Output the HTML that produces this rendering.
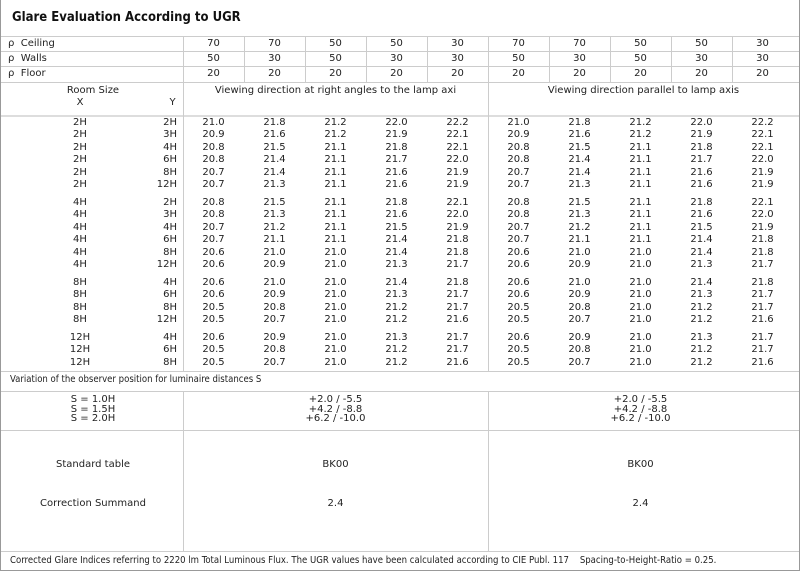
<!DOCTYPE html>
<html><head><meta charset="utf-8"><style>
*{margin:0;padding:0;box-sizing:border-box}
body{width:800px;height:571px;background:#fff;position:relative;font-family:"DejaVu Sans","Liberation Sans",sans-serif;font-size:10px;color:#222;overflow:hidden}
.a{position:absolute}
.h{position:absolute;height:1px;background:#ccc}
.v{position:absolute;width:1px;background:#ccc}
.r{position:absolute;left:0;height:12.4px;line-height:12.4px;white-space:nowrap;width:800px}
.r span{position:absolute;top:0;text-align:center;width:61px}
.r .x{left:0;width:160px}
.r .y{left:120px;width:57px;text-align:right}
.c{position:absolute;text-align:center}
.cd{font-family:"DejaVu Sans Condensed","DejaVu Sans",sans-serif;font-stretch:condensed}
</style></head><body>
<div class="a" style="left:0;top:0;width:800px;height:571px;border:1px solid #999;border-top:none"></div>
<div class="a cd" style="left:12px;top:10px;font-size:13px;font-weight:bold;color:#111">Glare Evaluation According to UGR</div>
<div class="h" style="left:1px;width:798px;top:36px"></div>
<div class="h" style="left:1px;width:798px;top:51px"></div>
<div class="h" style="left:1px;width:798px;top:66px"></div>
<div class="h" style="left:1px;width:798px;top:82px"></div>
<div class="h" style="left:1px;width:798px;top:115px;background:#ddd;height:2px"></div>
<div class="h" style="left:1px;width:798px;top:371px"></div>
<div class="h" style="left:1px;width:798px;top:391px"></div>
<div class="h" style="left:1px;width:798px;top:430px"></div>
<div class="h" style="left:1px;width:798px;top:551px"></div>
<div class="v" style="left:183px;top:36px;height:335px"></div>
<div class="v" style="left:183px;top:391px;height:160px"></div>
<div class="v" style="left:488px;top:36px;height:335px"></div>
<div class="v" style="left:488px;top:391px;height:160px"></div>
<div class="v" style="left:244px;top:36px;height:46px"></div>
<div class="v" style="left:305px;top:36px;height:46px"></div>
<div class="v" style="left:366px;top:36px;height:46px"></div>
<div class="v" style="left:427px;top:36px;height:46px"></div>
<div class="v" style="left:549px;top:36px;height:46px"></div>
<div class="v" style="left:610px;top:36px;height:46px"></div>
<div class="v" style="left:671px;top:36px;height:46px"></div>
<div class="v" style="left:732px;top:36px;height:46px"></div>

<div class="r" style="top:38px"><span style="left:8px;text-align:left;width:150px">ρ&nbsp; Ceiling</span><span style="left:183px">70</span><span style="left:244px">70</span><span style="left:305px">50</span><span style="left:366px">50</span><span style="left:427px">30</span><span style="left:488px">70</span><span style="left:549px">70</span><span style="left:610px">50</span><span style="left:671px">50</span><span style="left:732px">30</span></div>
<div class="r" style="top:53px"><span style="left:8px;text-align:left;width:150px">ρ&nbsp; Walls</span><span style="left:183px">50</span><span style="left:244px">30</span><span style="left:305px">50</span><span style="left:366px">30</span><span style="left:427px">30</span><span style="left:488px">50</span><span style="left:549px">30</span><span style="left:610px">50</span><span style="left:671px">30</span><span style="left:732px">30</span></div>
<div class="r" style="top:68px"><span style="left:8px;text-align:left;width:150px">ρ&nbsp; Floor</span><span style="left:183px">20</span><span style="left:244px">20</span><span style="left:305px">20</span><span style="left:366px">20</span><span style="left:427px">20</span><span style="left:488px">20</span><span style="left:549px">20</span><span style="left:610px">20</span><span style="left:671px">20</span><span style="left:732px">20</span></div>

<div class="c" style="left:0;width:186px;top:85px">Room Size</div>
<div class="c" style="left:60px;width:40px;top:97px">X</div>
<div class="c" style="left:155px;width:35px;top:97px">Y</div>
<div class="c" style="left:183px;width:305px;top:85px">Viewing direction at right angles to the lamp axi</div>
<div class="c" style="left:488px;width:311px;top:85px">Viewing direction parallel to lamp axis</div>

<div class="a" style="left:0;top:117px;width:800px">
<div class="r" style="top:0"><span class="x">2H</span><span class="y">2H</span><span style="left:183px">21.0</span><span style="left:244px">21.8</span><span style="left:305px">21.2</span><span style="left:366px">22.0</span><span style="left:427px">22.2</span><span style="left:488px">21.0</span><span style="left:549px">21.8</span><span style="left:610px">21.2</span><span style="left:671px">22.0</span><span style="left:732px">22.2</span></div>
<div class="r" style="top:12.4px"><span class="x">2H</span><span class="y">3H</span><span style="left:183px">20.9</span><span style="left:244px">21.6</span><span style="left:305px">21.2</span><span style="left:366px">21.9</span><span style="left:427px">22.1</span><span style="left:488px">20.9</span><span style="left:549px">21.6</span><span style="left:610px">21.2</span><span style="left:671px">21.9</span><span style="left:732px">22.1</span></div>
<div class="r" style="top:24.8px"><span class="x">2H</span><span class="y">4H</span><span style="left:183px">20.8</span><span style="left:244px">21.5</span><span style="left:305px">21.1</span><span style="left:366px">21.8</span><span style="left:427px">22.1</span><span style="left:488px">20.8</span><span style="left:549px">21.5</span><span style="left:610px">21.1</span><span style="left:671px">21.8</span><span style="left:732px">22.1</span></div>
<div class="r" style="top:37.2px"><span class="x">2H</span><span class="y">6H</span><span style="left:183px">20.8</span><span style="left:244px">21.4</span><span style="left:305px">21.1</span><span style="left:366px">21.7</span><span style="left:427px">22.0</span><span style="left:488px">20.8</span><span style="left:549px">21.4</span><span style="left:610px">21.1</span><span style="left:671px">21.7</span><span style="left:732px">22.0</span></div>
<div class="r" style="top:49.6px"><span class="x">2H</span><span class="y">8H</span><span style="left:183px">20.7</span><span style="left:244px">21.4</span><span style="left:305px">21.1</span><span style="left:366px">21.6</span><span style="left:427px">21.9</span><span style="left:488px">20.7</span><span style="left:549px">21.4</span><span style="left:610px">21.1</span><span style="left:671px">21.6</span><span style="left:732px">21.9</span></div>
<div class="r" style="top:62px"><span class="x">2H</span><span class="y">12H</span><span style="left:183px">20.7</span><span style="left:244px">21.3</span><span style="left:305px">21.1</span><span style="left:366px">21.6</span><span style="left:427px">21.9</span><span style="left:488px">20.7</span><span style="left:549px">21.3</span><span style="left:610px">21.1</span><span style="left:671px">21.6</span><span style="left:732px">21.9</span></div>
</div>

<div class="a" style="left:0;top:197px;width:800px">
<div class="r" style="top:0"><span class="x">4H</span><span class="y">2H</span><span style="left:183px">20.8</span><span style="left:244px">21.5</span><span style="left:305px">21.1</span><span style="left:366px">21.8</span><span style="left:427px">22.1</span><span style="left:488px">20.8</span><span style="left:549px">21.5</span><span style="left:610px">21.1</span><span style="left:671px">21.8</span><span style="left:732px">22.1</span></div>
<div class="r" style="top:12.4px"><span class="x">4H</span><span class="y">3H</span><span style="left:183px">20.8</span><span style="left:244px">21.3</span><span style="left:305px">21.1</span><span style="left:366px">21.6</span><span style="left:427px">22.0</span><span style="left:488px">20.8</span><span style="left:549px">21.3</span><span style="left:610px">21.1</span><span style="left:671px">21.6</span><span style="left:732px">22.0</span></div>
<div class="r" style="top:24.8px"><span class="x">4H</span><span class="y">4H</span><span style="left:183px">20.7</span><span style="left:244px">21.2</span><span style="left:305px">21.1</span><span style="left:366px">21.5</span><span style="left:427px">21.9</span><span style="left:488px">20.7</span><span style="left:549px">21.2</span><span style="left:610px">21.1</span><span style="left:671px">21.5</span><span style="left:732px">21.9</span></div>
<div class="r" style="top:37.2px"><span class="x">4H</span><span class="y">6H</span><span style="left:183px">20.7</span><span style="left:244px">21.1</span><span style="left:305px">21.1</span><span style="left:366px">21.4</span><span style="left:427px">21.8</span><span style="left:488px">20.7</span><span style="left:549px">21.1</span><span style="left:610px">21.1</span><span style="left:671px">21.4</span><span style="left:732px">21.8</span></div>
<div class="r" style="top:49.6px"><span class="x">4H</span><span class="y">8H</span><span style="left:183px">20.6</span><span style="left:244px">21.0</span><span style="left:305px">21.0</span><span style="left:366px">21.4</span><span style="left:427px">21.8</span><span style="left:488px">20.6</span><span style="left:549px">21.0</span><span style="left:610px">21.0</span><span style="left:671px">21.4</span><span style="left:732px">21.8</span></div>
<div class="r" style="top:62px"><span class="x">4H</span><span class="y">12H</span><span style="left:183px">20.6</span><span style="left:244px">20.9</span><span style="left:305px">21.0</span><span style="left:366px">21.3</span><span style="left:427px">21.7</span><span style="left:488px">20.6</span><span style="left:549px">20.9</span><span style="left:610px">21.0</span><span style="left:671px">21.3</span><span style="left:732px">21.7</span></div>
</div>

<div class="a" style="left:0;top:277px;width:800px">
<div class="r" style="top:0"><span class="x">8H</span><span class="y">4H</span><span style="left:183px">20.6</span><span style="left:244px">21.0</span><span style="left:305px">21.0</span><span style="left:366px">21.4</span><span style="left:427px">21.8</span><span style="left:488px">20.6</span><span style="left:549px">21.0</span><span style="left:610px">21.0</span><span style="left:671px">21.4</span><span style="left:732px">21.8</span></div>
<div class="r" style="top:12.4px"><span class="x">8H</span><span class="y">6H</span><span style="left:183px">20.6</span><span style="left:244px">20.9</span><span style="left:305px">21.0</span><span style="left:366px">21.3</span><span style="left:427px">21.7</span><span style="left:488px">20.6</span><span style="left:549px">20.9</span><span style="left:610px">21.0</span><span style="left:671px">21.3</span><span style="left:732px">21.7</span></div>
<div class="r" style="top:24.8px"><span class="x">8H</span><span class="y">8H</span><span style="left:183px">20.5</span><span style="left:244px">20.8</span><span style="left:305px">21.0</span><span style="left:366px">21.2</span><span style="left:427px">21.7</span><span style="left:488px">20.5</span><span style="left:549px">20.8</span><span style="left:610px">21.0</span><span style="left:671px">21.2</span><span style="left:732px">21.7</span></div>
<div class="r" style="top:37.2px"><span class="x">8H</span><span class="y">12H</span><span style="left:183px">20.5</span><span style="left:244px">20.7</span><span style="left:305px">21.0</span><span style="left:366px">21.2</span><span style="left:427px">21.6</span><span style="left:488px">20.5</span><span style="left:549px">20.7</span><span style="left:610px">21.0</span><span style="left:671px">21.2</span><span style="left:732px">21.6</span></div>
</div>

<div class="a" style="left:0;top:332px;width:800px">
<div class="r" style="top:0"><span class="x">12H</span><span class="y">4H</span><span style="left:183px">20.6</span><span style="left:244px">20.9</span><span style="left:305px">21.0</span><span style="left:366px">21.3</span><span style="left:427px">21.7</span><span style="left:488px">20.6</span><span style="left:549px">20.9</span><span style="left:610px">21.0</span><span style="left:671px">21.3</span><span style="left:732px">21.7</span></div>
<div class="r" style="top:12.4px"><span class="x">12H</span><span class="y">6H</span><span style="left:183px">20.5</span><span style="left:244px">20.8</span><span style="left:305px">21.0</span><span style="left:366px">21.2</span><span style="left:427px">21.7</span><span style="left:488px">20.5</span><span style="left:549px">20.8</span><span style="left:610px">21.0</span><span style="left:671px">21.2</span><span style="left:732px">21.7</span></div>
<div class="r" style="top:24.8px"><span class="x">12H</span><span class="y">8H</span><span style="left:183px">20.5</span><span style="left:244px">20.7</span><span style="left:305px">21.0</span><span style="left:366px">21.2</span><span style="left:427px">21.6</span><span style="left:488px">20.5</span><span style="left:549px">20.7</span><span style="left:610px">21.0</span><span style="left:671px">21.2</span><span style="left:732px">21.6</span></div>
</div>

<div class="a cd" style="left:10px;top:374px;font-size:9.5px">Variation of the observer position for luminaire distances S</div>
<div class="c" style="left:0;width:186px;top:395px;line-height:9.5px">S = 1.0H<br>S = 1.5H<br>S = 2.0H</div>
<div class="c" style="left:183px;width:305px;top:395px;line-height:9.5px">+2.0 / -5.5<br>+4.2 / -8.8<br>+6.2 / -10.0</div>
<div class="c" style="left:488px;width:305px;top:395px;line-height:9.5px">+2.0 / -5.5<br>+4.2 / -8.8<br>+6.2 / -10.0</div>

<div class="c" style="left:0;width:186px;top:459px">Standard table</div>
<div class="c" style="left:183px;width:305px;top:459px">BK00</div>
<div class="c" style="left:488px;width:305px;top:459px">BK00</div>
<div class="c" style="left:0;width:186px;top:498px">Correction Summand</div>
<div class="c" style="left:183px;width:305px;top:498px">2.4</div>
<div class="c" style="left:488px;width:305px;top:498px">2.4</div>

<div class="a cd" style="left:10px;top:555px;font-size:9.5px;white-space:nowrap">Corrected Glare Indices referring to 2220 lm Total Luminous Flux. The UGR values have been calculated according to CIE Publ. 117&nbsp;&nbsp;&nbsp; Spacing-to-Height-Ratio = 0.25.</div>
</body></html>
